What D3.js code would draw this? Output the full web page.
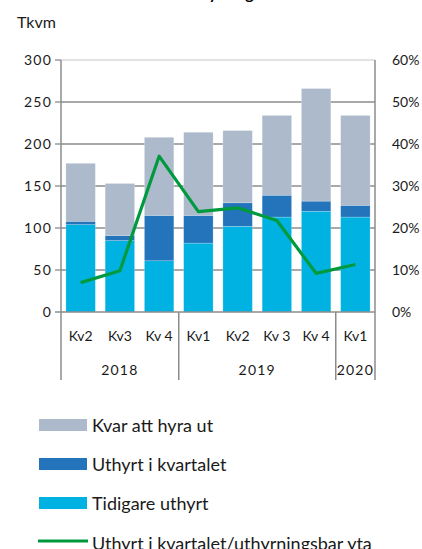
<!DOCTYPE html>
<html>
<head>
    <meta charset="UTF-8">
    <title>Uthyrning</title>
    <script src="https://d3js.org/d3.v7.min.js"></script>
    <style>
        body { margin: 0; background: #fff; font-family: Lato, "Open Sans", sans-serif; }
        svg { display: block; }
        .tick-label { font-size: 14px; fill: #1a1a1a; }
        .num-label { letter-spacing: 1.2px; }
        .legend-label { font-size: 18px; fill: #1a1a1a; }
    </style>
</head>
<body>
    <svg id="chart"></svg>
    <script>
        const width = 422;
        const height = 549;

        // data
        const quarters = ["Kv2", "Kv3", "Kv 4", "Kv1", "Kv2", "Kv 3", "Kv 4", "Kv1"];
        const years = [
            { label: "2018", start: 0, end: 3 },
            { label: "2019", start: 3, end: 7 },
            { label: "2020", start: 7, end: 8 }
        ];
        const tidigare = [104, 85, 61, 82, 102, 113, 120, 113];
        const uthyrt = [4, 6, 54, 33, 28, 26, 12, 14];
        const kvar = [69, 62, 93, 99, 86, 95, 134, 107];
        const andel = [7.0, 9.8, 37.1, 23.9, 24.8, 21.8, 9.2, 11.3];
        const leftTicks = [0, 50, 100, 150, 200, 250, 300];
        const rightTicks = [0, 10, 20, 30, 40, 50, 60];

        const series = [
            { key: "tidigare", name: "Tidigare uthyrt", values: tidigare, color: "#00b2e1" },
            { key: "uthyrt", name: "Uthyrt i kvartalet", values: uthyrt, color: "#2474bc" },
            { key: "kvar", name: "Kvar att hyra ut", values: kvar, color: "#adbacb" }
        ];

        const m = { left: 61, right: 375, top: 60, bottom: 312 };

        const svg = d3.select("#chart").attr("width", width).attr("height", height);

        // title, cut off by the top edge in the original
        svg.append("text")
            .attr("x", 218).attr("y", -1)
            .attr("text-anchor", "middle")
            .style("font-size", "16px").style("font-weight", "bold")
            .text("Uthyrning");

        const x = d3.scaleBand().domain(d3.range(quarters.length)).range([m.left, m.right]).paddingInner(0.25).paddingOuter(0.125);
        const y = d3.scaleLinear().domain([0, 300]).range([m.bottom, m.top]);
        const y2 = d3.scaleLinear().domain([0, 60]).range([m.bottom, m.top]);

        svg.append("text").attr("x", 17).attr("y", 28).style("font-size", "16px").attr("fill", "#1a1a1a").text("Tkvm");

        // gridlines
        svg.append("g").selectAll("line").data(leftTicks.filter(d => d > 0)).join("line")
            .attr("x1", m.left).attr("x2", m.right)
            .attr("y1", d => y(d)).attr("y2", d => y(d))
            .attr("stroke", d => d === 300 ? "#d9d9d9" : "#8c8c8c")
            .attr("stroke-width", 1.3);

        // stacked bars
        const stacked = d3.stack().keys(series.map(s => s.key))(
            quarters.map((q, i) => ({ tidigare: tidigare[i], uthyrt: uthyrt[i], kvar: kvar[i] }))
        );
        svg.append("g").selectAll("g").data(stacked).join("g")
            .attr("fill", (d, i) => series[i].color)
            .selectAll("rect").data(d => d).join("rect")
            .attr("x", (d, i) => x(i))
            .attr("width", x.bandwidth())
            .attr("y", d => y(d[1]))
            .attr("height", d => y(d[0]) - y(d[1]))
            .attr("stroke", "#ffffff").attr("stroke-opacity", 0.35).attr("stroke-width", 0.6);

        // line
        const line = d3.line().x((d, i) => x(i) + x.bandwidth() / 2).y(d => y2(d));
        svg.append("path").datum(andel)
            .attr("d", line).attr("fill", "none")
            .attr("stroke", "#009a3e").attr("stroke-width", 3.2)
            .attr("stroke-linejoin", "round");

        // axes
        const axisColor = "#8c8c8c";
        svg.append("line").attr("x1", m.left).attr("x2", m.left).attr("y1", m.top).attr("y2", 380)
            .attr("stroke", axisColor).attr("stroke-width", 1.5);
        svg.append("line").attr("x1", m.right).attr("x2", m.right).attr("y1", m.top).attr("y2", 380)
            .attr("stroke", axisColor).attr("stroke-width", 1.5);
        svg.append("line").attr("x1", m.left - 6).attr("x2", m.right).attr("y1", m.bottom).attr("y2", m.bottom)
            .attr("stroke", axisColor).attr("stroke-width", 1.5);
        svg.append("g").selectAll("line").data(leftTicks.filter(d => d > 0)).join("line")
            .attr("x1", m.left - 6).attr("x2", m.left)
            .attr("y1", d => y(d)).attr("y2", d => y(d))
            .attr("stroke", axisColor).attr("stroke-width", 1.3);

        // year separators
        const step = x.step();
        const sepX = i => m.left + x.paddingOuter() * step - x.paddingInner() * step / 2 + i * step;
        svg.append("g").selectAll("line").data(years.slice(1)).join("line")
            .attr("x1", d => sepX(d.start)).attr("x2", d => sepX(d.start))
            .attr("y1", m.bottom).attr("y2", 380)
            .attr("stroke", axisColor).attr("stroke-width", 1.5);

        svg.append("g").selectAll("text").data(leftTicks).join("text")
            .attr("class", "tick-label num-label")
            .attr("x", 52).attr("y", d => y(d) + 5)
            .attr("text-anchor", "end").text(d => d);

        svg.append("g").selectAll("text").data(rightTicks).join("text")
            .attr("class", "tick-label")
            .attr("x", 392).attr("y", d => y2(d) + 5)
            .text(d => d + "%");

        svg.append("g").selectAll("text").data(quarters).join("text")
            .attr("class", "tick-label")
            .attr("x", (d, i) => x(i) + x.bandwidth() / 2).attr("y", 341)
            .attr("text-anchor", "middle").text(d => d);

        svg.append("g").selectAll("text").data(years).join("text")
            .attr("class", "tick-label num-label")
            .attr("x", d => (sepX(d.start) + (d.end === quarters.length ? m.right : sepX(d.end))) / 2)
            .attr("y", 375)
            .attr("text-anchor", "middle").text(d => d.label);

        // legend
        const legendItems = [series[2], series[1], series[0]];
        const lg = svg.append("g");
        legendItems.forEach((s, i) => {
            const ly = 419 + i * 39;
            lg.append("rect").attr("x", 39).attr("y", ly).attr("width", 48).attr("height", 12).attr("fill", s.color);
            lg.append("text").attr("class", "legend-label").attr("x", 92).attr("y", ly + 13).text(s.name);
        });
        lg.append("line").attr("x1", 38).attr("x2", 88).attr("y1", 541).attr("y2", 541)
            .attr("stroke", "#009a3e").attr("stroke-width", 3.2);
        lg.append("text").attr("class", "legend-label").attr("x", 92).attr("y", 550).text("Uthyrt i kvartalet/uthyrningsbar yta");
    </script>
</body>
</html>
